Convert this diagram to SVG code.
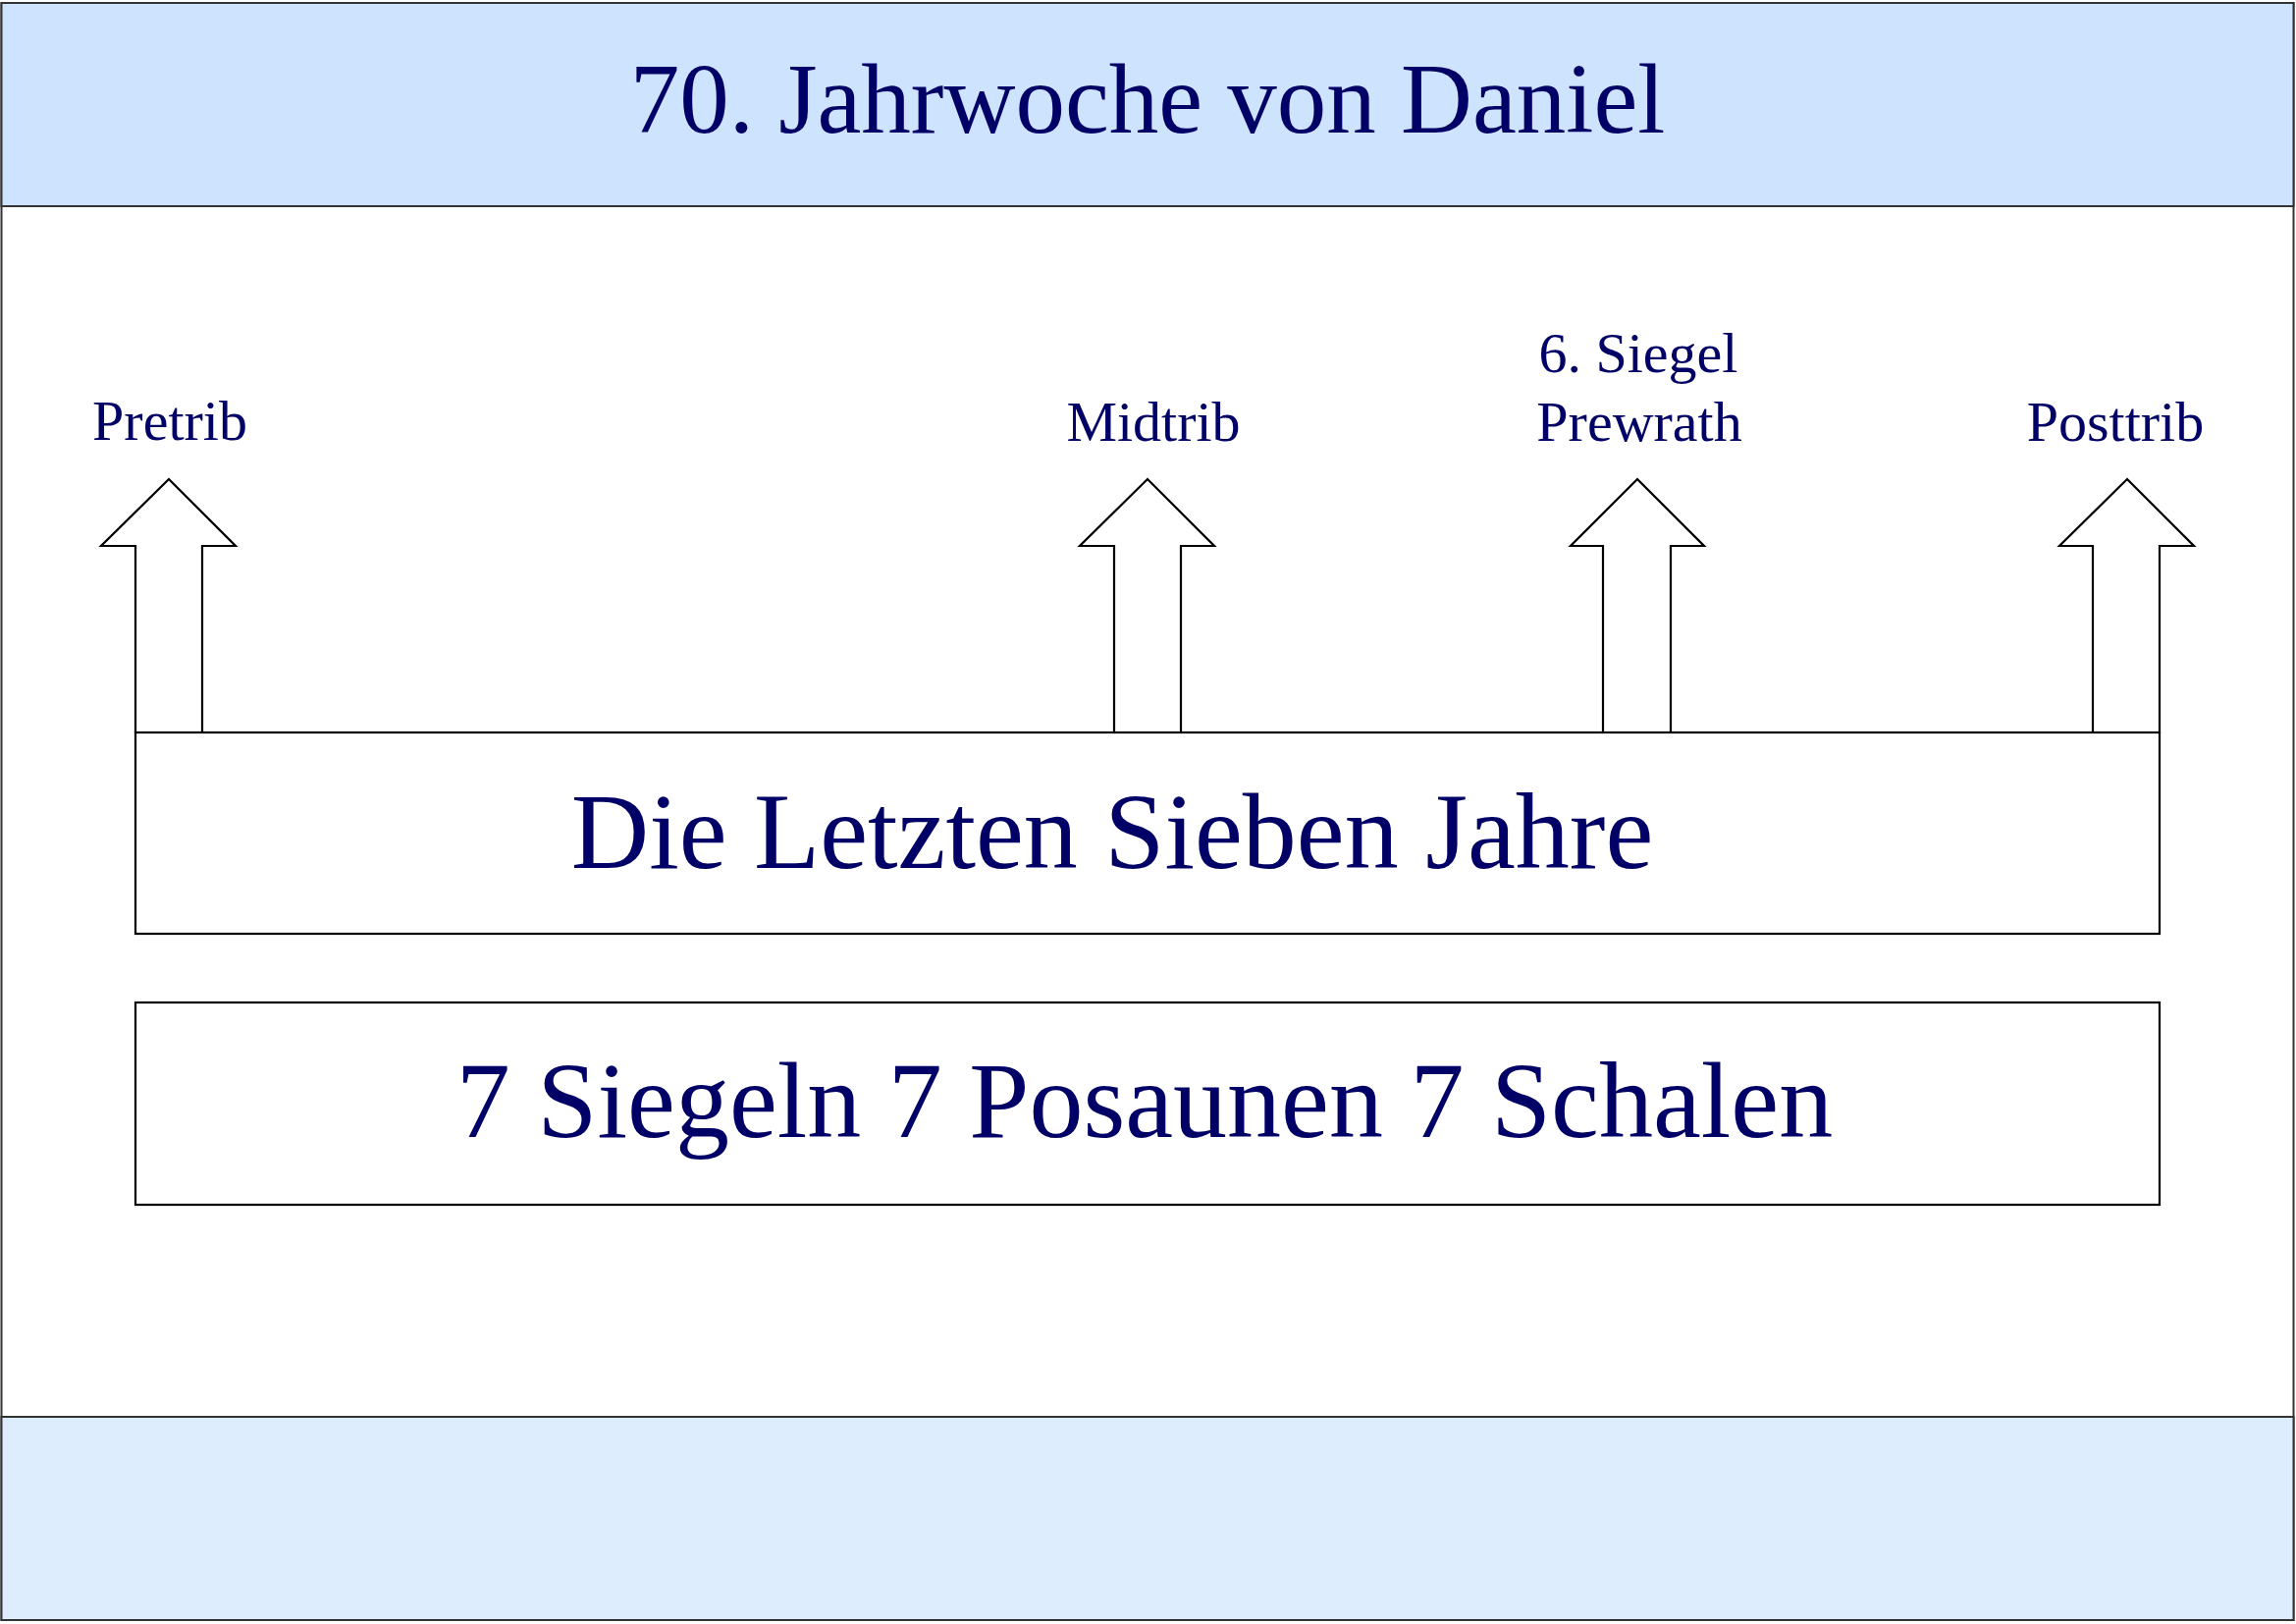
<svg xmlns="http://www.w3.org/2000/svg" width="2339" height="1654" viewBox="0 0 2339 1654">
<style>
.t{font-family:"Liberation Serif","Times New Roman",serif;fill:#000066;text-anchor:middle}
.big{font-size:110px}
.lbl{font-size:58px}
.arrow{fill:#ffffff;stroke:#000000;stroke-width:2.2;stroke-linejoin:miter}
.box{fill:#ffffff;stroke:#000000;stroke-width:2.2}
</style>
<rect x="0" y="0" width="2339" height="1654" fill="#ffffff"/>
<g id="page">
<rect x="1.5" y="3" width="2335" height="1647" fill="#ffffff" stroke="#333333" stroke-width="2"/>
</g>
<g id="header">
<rect x="1.5" y="3" width="2335" height="207" fill="#cde3fe" stroke="#333333" stroke-width="2"/>
<text class="t" x="1169" y="135" font-size="101">70. Jahrwoche von Daniel</text>
</g>
<g id="footer">
<rect x="1.5" y="1443" width="2335" height="207" fill="#deedfe" stroke="#333333" stroke-width="2"/>
</g>
<g id="connectors">
<g id="arrow-pretrib">
<polygon class="arrow" points="138,746 138,556 103,556 172,488 240,556 206,556 206,746"/>
<text class="t lbl" x="173" y="448">Pretrib</text>
</g>
<g id="arrow-midtrib">
<polygon class="arrow" points="1135,746 1135,556 1100,556 1169,488 1237,556 1203,556 1203,746"/>
<text class="t lbl" x="1175" y="449">Midtrib</text>
</g>
<g id="arrow-prewrath">
<polygon class="arrow" points="1633,746 1633,556 1600,556 1668,488 1736,556 1702,556 1702,746"/>
<text class="t lbl" x="1669" y="379">6. Siegel</text>
<text class="t lbl" x="1670" y="449">Prewrath</text>
</g>
<g id="arrow-posttrib">
<polygon class="arrow" points="2132,746 2132,556 2098,556 2167,488 2235,556 2200,556 2200,746"/>
<text class="t lbl" x="2155" y="449">Posttrib</text>
</g>
</g>
<g id="box-jahre">
<rect class="box" x="138" y="746" width="2062" height="205"/>
<text class="t big" x="1133" y="884">Die Letzten Sieben Jahre</text>
</g>
<g id="box-gerichte">
<rect class="box" x="138" y="1021" width="2062" height="206"/>
<text class="t big" x="1166" y="1158">7 Siegeln 7 Posaunen 7 Schalen</text>
</g>
</svg>
